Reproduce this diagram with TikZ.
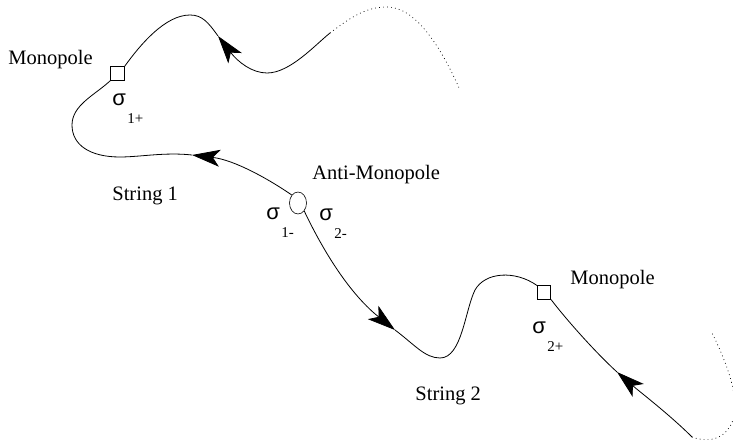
\documentclass[tikz,border=0pt]{standalone}
\usepackage{fontspec}
\setmainfont{Liberation Serif}
\newfontfamily\sigfont{Liberation Sans}
\usetikzlibrary{arrows.meta,shapes.geometric}
\newcommand{\sig}[1]{{\sigfont\fontsize{22}{24}\selectfont σ}\hspace{1.5pt}\raisebox{-18pt}{\fontsize{15}{16}\selectfont #1}}

\begin{document}
\begin{tikzpicture}[x=1pt,y=-1pt,line width=0.8pt,
    mono/.style={draw,rectangle,minimum size=13.5pt,inner sep=0pt,line width=0.6pt},
    anti/.style={draw,ellipse,minimum width=17pt,minimum height=22pt,inner sep=0pt,line width=0.6pt},
    lbl/.style={anchor=base west,inner sep=0pt,font=\fontsize{20.5}{24}\selectfont},
    flow/.style={-{Stealth[length=28pt,width=17pt,inset=7pt]}},
    trail/.style={line width=0.7pt,dash pattern=on 0.8pt off 3.2pt}]
    \useasboundingbox (0,0) rectangle (733,441);

    % --- POLES ---
    \node[mono] (sq1) at (117.5,73.5) {};
    \node[mono] (sq2) at (544,292.5) {};
    \node[anti] (am) at (298,203) {};

    \node[lbl] (m1) at (8,65) {Monopole};
    \node[lbl] (m2) at (570,284) {Monopole};
    \node[lbl] (m3) at (312,179) {Anti-Monopole};
    \node[lbl] (st1) at (112,200) {String 1};
    \node[lbl] (st2) at (415,400) {String 2};

    \node[lbl] (s1p) at (112,106) {\sig{1+}};
    \node[lbl] (s1m) at (266,219) {\sig{1-}};
    \node[lbl] (s2m) at (319,220) {\sig{2-}};
    \node[lbl] (s2p) at (532,333) {\sig{2+}};

    % arrow tips and loose ends
    \coordinate (a1) at (218,36);
    \coordinate (a2) at (192,155);
    \coordinate (a3) at (395,330);
    \coordinate (a4) at (617,372);
    \coordinate (up1) at (330,33);
    \coordinate (lr1) at (692,437);

    % --- STRING 1 ---
    \draw[flow] (up1) .. controls (315,45) and (290,73) .. (267,73)
        .. controls (252,73) and (238,62) .. (a1);
    \draw (a1) .. controls (208,22) and (202,15) .. (190,15)
        .. controls (165,15) and (140,45) .. (sq1.north east);
    \draw[trail] (up1) .. controls (350,18) and (365,7) .. (387,7)
        .. controls (415,7) and (440,45) .. (460,90);
    \draw[flow] (am.north west) .. controls (270,180) and (235,160) .. (a2);
    \draw (a2) .. controls (165,152) and (140,157) .. (120,157)
        .. controls (90,157) and (72,145) .. (72,125)
        .. controls (72,105) and (95,95) .. (sq1.south west);

    % --- STRING 2 ---
    \draw[flow] (am.south east) .. controls (318,240) and (345,290) .. (a3);
    \draw (a3) .. controls (415,345) and (425,358) .. (440,358)
        .. controls (462,358) and (465,310) .. (475,290)
        .. controls (485,272) and (515,270) .. (sq2.north west);
    \draw[flow] (lr1) .. controls (670,415) and (640,392) .. (a4);
    \draw (a4) .. controls (595,352) and (565,318) .. (sq2.south east);
    \draw[trail] (lr1) .. controls (705,442) and (725,442) .. (733,420)
        .. controls (740,400) and (728,365) .. (712,333);
\end{tikzpicture}
\end{document}
